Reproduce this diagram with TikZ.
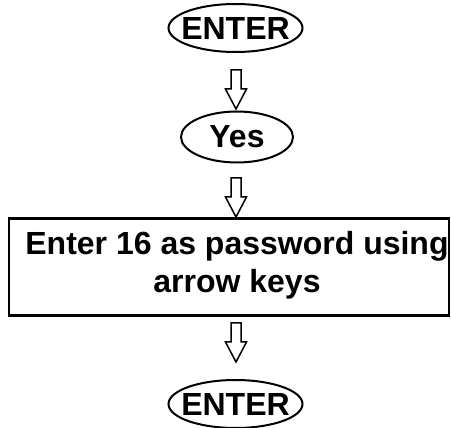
\documentclass[tikz,border=0pt]{standalone}
\usepackage{fontspec}
\setmainfont{Liberation Sans}
\usetikzlibrary{shapes.geometric}
\begin{document}
\begin{tikzpicture}[x=1pt,y=1pt,
  txt/.style={font=\fontsize{32}{38}\selectfont\bfseries, align=center},
  oval/.style={ellipse, draw, line width=2pt, inner xsep=-40pt, inner ysep=-20pt, txt},
  boxnode/.style={rectangle, draw, line width=2.5pt, inner sep=0pt},
  blockarrow/.pic={\draw[line width=1.5pt, line join=miter]
     (-5,0) -- (-5,-19) -- (-10.5,-19) -- (0,-39) -- (10.5,-19) -- (5,-19) -- (5,0) -- cycle;}]
\useasboundingbox (0,0) rectangle (451,-428);
\node[oval, minimum width=134, minimum height=48] (e1) at (235.5,-28) {ENTER};
\node[oval, minimum width=112, minimum height=51] (yes) at (237,-137) {Yes};
\node[boxnode, minimum width=440, minimum height=97] (box) at (229,-267) {};
\node[txt, inner sep=0pt] (boxtext) at (237,-265) {Enter 16 as password using\\arrow keys};
\node[oval, minimum width=134, minimum height=48] (e2) at (235.5,-404) {ENTER};
\coordinate (a1) at (236,-70);
\coordinate (a2) at (236,-178);
\coordinate (a3) at (236,-323);
\pic at (a1) {blockarrow};
\pic at (a2) {blockarrow};
\pic at (a3) {blockarrow};
\end{tikzpicture}
\end{document}
